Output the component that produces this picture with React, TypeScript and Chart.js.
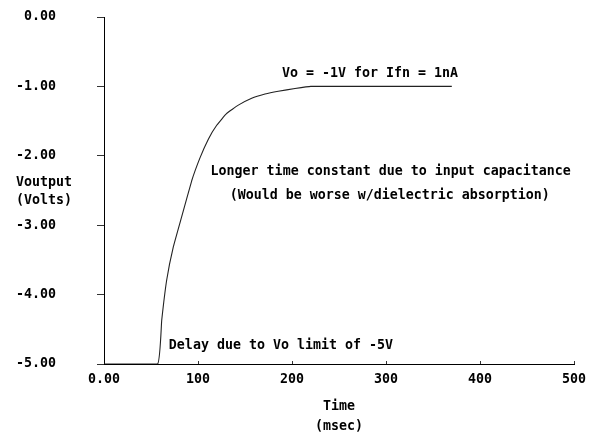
import React, { useEffect, useRef } from "react";
import { Chart, registerables } from "chart.js";

Chart.register(...registerables);

// Data
const timeMs = [0, 57, 61.4, 66.7, 73.8, 82.6, 93.3, 102.1, 111, 119.9, 130.5, 142.9, 157.1, 171.3, 185.4, 203.2, 220, 370];
const voutVolts = [-5, -5, -4.37, -3.79, -3.31, -2.88, -2.36, -2.03, -1.76, -1.56, -1.39, -1.27, -1.17, -1.11, -1.07, -1.03, -1.0, -1.0];

const xTickValues = [0, 100, 200, 300, 400, 500];
const xTickLabels = ["0.00", "100", "200", "300", "400", "500"];
const yTickValues = [-5, -4, -3, -2, -1, 0];
const yTickLabels = ["-5.00", "-4.00", "-3.00", "-2.00", "-1.00", "0.00"];

const xTitleLines = ["Time", "(msec)"];
const yTitleLines = ["Voutput", "(Volts)"];

const noteTexts = [
  "Vo = -1V for Ifn = 1nA",
  "Longer time constant due to input capacitance",
  "(Would be worse w/dielectric absorption)",
  "Delay due to Vo limit of -5V",
];
const noteX = [283, 305, 304, 69];
const noteY = [-0.81, -2.23, -2.575, -4.73];
const noteAlign: CanvasTextAlign[] = ["center", "center", "center", "left"];

const FONT_FAMILY = "'DejaVu Sans Mono', 'Liberation Mono', monospace";
const FONT_SIZE = 13.3;

const textPlugin = {
  id: "textPlugin",
  afterDraw(chart: any) {
    const ctx = chart.ctx;
    const xs = chart.scales.x;
    const ys = chart.scales.y;
    const area = chart.chartArea;
    ctx.save();
    ctx.fillStyle = "#000";
    ctx.font = `bold ${FONT_SIZE}px ${FONT_FAMILY}`;
    ctx.textBaseline = "middle";
    for (let i = 0; i < noteTexts.length; i++) {
      ctx.textAlign = noteAlign[i];
      ctx.fillText(noteTexts[i], xs.getPixelForValue(noteX[i]), ys.getPixelForValue(noteY[i]));
    }
    // y axis title (horizontal, at left)
    ctx.textAlign = "left";
    ctx.fillText(yTitleLines[0], 16, ys.getPixelForValue(-2.38));
    ctx.fillText(yTitleLines[1], 16, ys.getPixelForValue(-2.65));
    // x axis title
    ctx.textAlign = "center";
    const cx = (area.left + area.right) / 2;
    ctx.fillText(xTitleLines[0], cx, area.bottom + 43);
    ctx.fillText(xTitleLines[1], cx, area.bottom + 63);
    ctx.restore();
  },
};

export default function App() {
  const canvasRef = useRef<HTMLCanvasElement | null>(null);

  useEffect(() => {
    const canvas = canvasRef.current;
    if (!canvas) return;
    const chart = new Chart(canvas, {
      type: "scatter",
      data: {
        datasets: [
          {
            data: timeMs.map((t, i) => ({ x: t, y: voutVolts[i] })),
            showLine: true,
            borderColor: "#222",
            borderWidth: 1.1,
            pointRadius: 0,
            tension: 0.1,
            fill: false,
          } as any,
        ],
      },
      options: {
        responsive: false,
        animation: false,
        events: [],
        layout: { padding: { left: 0, top: 17, right: 26, bottom: 0 } },
        plugins: {
          legend: { display: false },
          tooltip: { enabled: false },
          title: { display: false },
        },
        scales: {
          x: {
            type: "linear",
            min: 0,
            max: 500,
            afterBuildTicks: (scale: any) => {
              scale.ticks = xTickValues.map((v) => ({ value: v }));
            },
            afterFit: (scale: any) => {
              scale.height = 69;
              scale.paddingLeft = 0;
              scale.paddingRight = 0;
            },
            ticks: {
              color: "#000",
              font: { family: FONT_FAMILY, size: FONT_SIZE, weight: "bold" },
              padding: 11,
              maxRotation: 0,
              autoSkip: false,
              callback: (v: any) => xTickLabels[xTickValues.indexOf(Number(v))],
            },
            grid: {
              drawOnChartArea: false,
              drawTicks: true,
              tickLength: -3,
              color: "#333",
            },
            border: { display: true, color: "#000", width: 1 },
          },
          y: {
            type: "linear",
            min: -5,
            max: 0,
            afterBuildTicks: (scale: any) => {
              scale.ticks = yTickValues.map((v) => ({ value: v }));
            },
            afterFit: (scale: any) => {
              scale.width = 104;
              scale.paddingTop = 0;
              scale.paddingBottom = 0;
            },
            ticks: {
              color: "#000",
              font: { family: FONT_FAMILY, size: FONT_SIZE, weight: "bold" },
              padding: 41,
              autoSkip: false,
              callback: (v: any) => yTickLabels[yTickValues.indexOf(Number(v))],
            },
            grid: {
              drawOnChartArea: false,
              drawTicks: true,
              tickLength: 7,
              color: "#333",
            },
            border: { display: true, color: "#000", width: 1 },
          },
        },
      } as any,
      plugins: [textPlugin],
    });
    return () => chart.destroy();
  }, []);

  return (
    <div style={{ position: "fixed", left: 0, top: 0, width: 600, height: 433, background: "#fff" }}>
      <canvas ref={canvasRef} width={600} height={433} style={{ width: 600, height: 433 }} />
    </div>
  );
}
